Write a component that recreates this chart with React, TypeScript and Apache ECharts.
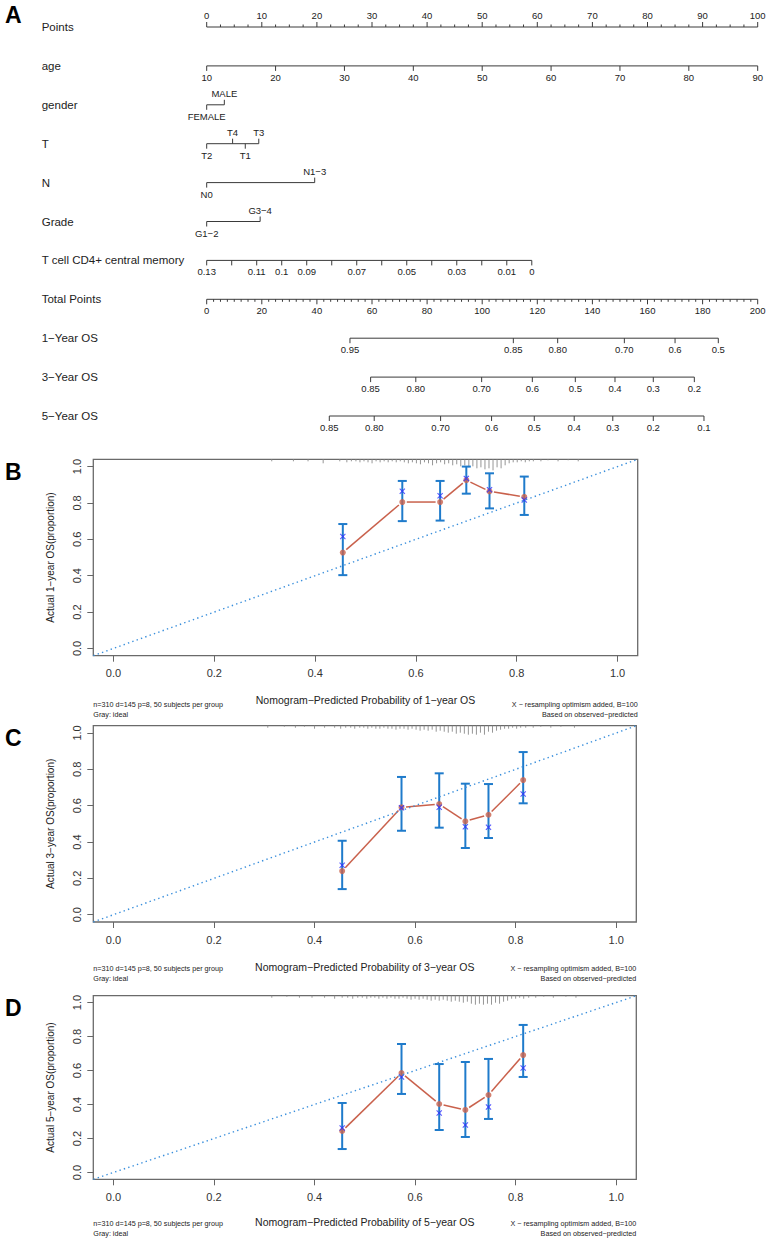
import React, { useEffect, useRef } from 'react';
import * as echarts from 'echarts';

const FONT = '"Liberation Sans", Arial, Helvetica, sans-serif';

// ---------------- Panel A: nomogram ----------------
const rowNames = ['Points', 'age', 'gender', 'T', 'N', 'Grade', 'T cell CD4+ central memory', 'Total Points', '1−Year OS', '3−Year OS', '5−Year OS'];
const pointsTicks = [0, 10, 20, 30, 40, 50, 60, 70, 80, 90, 100];
const ageTicks = [10, 20, 30, 40, 50, 60, 70, 80, 90];
const AGE_MIN = 10;
const AGE_MAX = 90;
const genderLevels = ['FEMALE', 'MALE'];
const genderPoints = [0, 3.2];
const tLevels = ['T2', 'T4', 'T1', 'T3'];
const tPoints = [0, 4.7, 7.0, 9.45];
const nLevels = ['N0', 'N1−3'];
const nPoints = [0, 19.6];
const gradeLevels = ['G1−2', 'G3−4'];
const gradePoints = [0, 9.7];
const tcellTicks = [0.13, 0.12, 0.11, 0.1, 0.09, 0.08, 0.07, 0.06, 0.05, 0.04, 0.03, 0.02, 0.01, 0];
const tcellLabels = ['0.13', '', '0.11', '0.1', '0.09', '', '0.07', '', '0.05', '', '0.03', '', '0.01', '0'];
const TCELL_MAX = 0.13;
const TCELL_POINTS_AT_ZERO = 59.0;
const totalTicks = [0, 20, 40, 60, 80, 100, 120, 140, 160, 180, 200];
const os1Labels = ['0.95', '0.85', '0.80', '0.70', '0.6', '0.5'];
const os1Total = [52.0, 111.3, 127.4, 151.6, 170.0, 185.7];
const os3Labels = ['0.85', '0.80', '0.70', '0.6', '0.5', '0.4', '0.3', '0.2'];
const os3Total = [59.5, 75.9, 99.8, 118.2, 133.8, 148.2, 162.1, 177.0];
const os5Labels = ['0.85', '0.80', '0.70', '0.6', '0.5', '0.4', '0.3', '0.2', '0.1'];
const os5Total = [44.5, 60.8, 84.9, 103.4, 118.9, 133.4, 147.4, 162.1, 180.5];

// ---------------- Panels B-D: calibration ----------------
const predP = [0.455, 0.573, 0.648, 0.700, 0.746, 0.815];

const obs1 = [0.527, 0.805, 0.805, 0.925, 0.864, 0.833];
const corr1 = [0.615, 0.864, 0.840, 0.935, 0.873, 0.816];
const lo1 = [0.403, 0.700, 0.703, 0.851, 0.770, 0.734];
const hi1 = [0.684, 0.921, 0.921, 1.0, 0.963, 0.945];

const obs3 = [0.240, 0.591, 0.609, 0.514, 0.550, 0.741];
const corr3 = [0.272, 0.588, 0.591, 0.484, 0.481, 0.664];
const lo3 = [0.141, 0.462, 0.479, 0.367, 0.422, 0.613];
const hi3 = [0.407, 0.758, 0.778, 0.721, 0.719, 0.895];

const obs5 = [0.244, 0.585, 0.403, 0.368, 0.456, 0.691];
const corr5 = [0.262, 0.562, 0.350, 0.279, 0.385, 0.615];
const lo5 = [0.138, 0.462, 0.250, 0.209, 0.315, 0.562];
const hi5 = [0.409, 0.756, 0.638, 0.650, 0.668, 0.868];

const rug1 = [[0.314,2],[0.357,2],[0.386,2],[0.416,4],[0.449,2],[0.463,3],[0.472,2],[0.481,2],[0.489,3],[0.497,2],[0.505,3],[0.513,4],[0.521,2],[0.529,3],[0.537,2],[0.545,3],[0.553,2],[0.561,3],[0.569,2],[0.577,3],[0.585,4],[0.593,3],[0.601,4],[0.609,5],[0.617,3],[0.625,4],[0.633,6],[0.641,4],[0.649,3],[0.657,5],[0.665,4],[0.673,6],[0.681,5],[0.689,7],[0.697,6],[0.705,8],[0.713,7],[0.721,9],[0.729,8],[0.737,10],[0.745,9],[0.753,11],[0.761,8],[0.769,9],[0.777,6],[0.785,4],[0.793,3],[0.801,3],[0.809,2],[0.817,3],[0.825,2],[0.833,2],[0.848,2],[0.862,1],[0.882,2],[0.902,1],[0.922,2]];
const rug3 = [[0.307,2],[0.34,1],[0.362,2],[0.38,1],[0.4,3],[0.42,2],[0.44,2],[0.452,3],[0.462,2],[0.472,2],[0.48,3],[0.49,2],[0.498,2],[0.506,3],[0.514,2],[0.522,3],[0.53,3],[0.538,2],[0.546,3],[0.554,3],[0.562,4],[0.57,3],[0.578,3],[0.586,4],[0.594,3],[0.602,4],[0.61,5],[0.618,4],[0.626,5],[0.634,4],[0.642,6],[0.65,5],[0.658,6],[0.666,7],[0.674,6],[0.682,8],[0.69,7],[0.698,8],[0.706,9],[0.714,8],[0.722,9],[0.73,7],[0.738,9],[0.746,6],[0.754,7],[0.762,5],[0.77,4],[0.778,3],[0.786,3],[0.794,2],[0.802,3],[0.81,2],[0.82,2],[0.835,2],[0.85,1],[0.87,2],[0.89,1],[0.917,2]];
const rug5 = [[0.315,2],[0.345,1],[0.37,2],[0.395,2],[0.42,2],[0.44,3],[0.455,2],[0.466,2],[0.476,3],[0.486,2],[0.495,2],[0.504,3],[0.512,2],[0.52,2],[0.528,3],[0.536,2],[0.544,3],[0.552,2],[0.56,3],[0.568,3],[0.576,2],[0.584,3],[0.592,4],[0.6,3],[0.608,4],[0.616,3],[0.624,4],[0.632,5],[0.64,4],[0.648,5],[0.656,4],[0.664,5],[0.672,6],[0.68,5],[0.688,6],[0.696,7],[0.704,6],[0.712,8],[0.72,9],[0.728,8],[0.736,9],[0.744,8],[0.752,9],[0.76,7],[0.768,8],[0.776,6],[0.784,5],[0.792,3],[0.8,3],[0.808,2],[0.816,3],[0.826,2],[0.84,2],[0.856,1],[0.875,2],[0.9,1],[0.92,2]];

const calTicks = [0, 0.2, 0.4, 0.6, 0.8, 1.0];

type Tick = { v: number; t: string; side: number; major: boolean };
type Row = { row: number; ticks: Tick[] };

function catTicks(levels: string[], pts: number[]): Tick[] {
  const items = levels.map((l, i) => ({ l, p: pts[i] })).sort((a, b) => a.p - b.p);
  return items.map((o, i) => ({ v: o.p, t: o.l, side: i % 2 === 0 ? 1 : -1, major: true }));
}

function buildRows() {
  const pointsRow: Tick[] = [];
  pointsTicks.forEach((v, i) => {
    pointsRow.push({ v, t: String(v), side: -1, major: true });
    if (i < pointsTicks.length - 1) {
      for (let k = 1; k < 4; k++) pointsRow.push({ v: v + (pointsTicks[i + 1] - v) * k / 4, t: '', side: -1, major: false });
    }
  });
  const ageRow: Tick[] = ageTicks.map((a) => ({ v: ((a - AGE_MIN) / (AGE_MAX - AGE_MIN)) * 100, t: String(a), side: 1, major: true }));
  const tcellRow: Tick[] = tcellTicks.map((v, i) => ({ v: ((TCELL_MAX - v) / TCELL_MAX) * TCELL_POINTS_AT_ZERO, t: tcellLabels[i], side: 1, major: true }));
  const totalRow: Tick[] = [];
  totalTicks.forEach((v, i) => {
    totalRow.push({ v, t: String(v), side: 1, major: true });
    if (i < totalTicks.length - 1) {
      for (let k = 1; k < 8; k++) totalRow.push({ v: v + (totalTicks[i + 1] - v) * k / 8, t: '', side: 1, major: false });
    }
  });
  const osRow = (labels: string[], tot: number[]): Tick[] => labels.map((l, i) => ({ v: tot[i], t: l, side: 1, major: true }));
  const rowsPts: Row[] = [
    { row: 0, ticks: pointsRow },
    { row: 1, ticks: ageRow },
    { row: 2, ticks: catTicks(genderLevels, genderPoints) },
    { row: 3, ticks: catTicks(tLevels, tPoints) },
    { row: 4, ticks: catTicks(nLevels, nPoints) },
    { row: 5, ticks: catTicks(gradeLevels, gradePoints) },
    { row: 6, ticks: tcellRow },
  ];
  const rowsTot: Row[] = [
    { row: 7, ticks: totalRow },
    { row: 8, ticks: osRow(os1Labels, os1Total) },
    { row: 9, ticks: osRow(os3Labels, os3Total) },
    { row: 10, ticks: osRow(os5Labels, os5Total) },
  ];
  return { rowsPts, rowsTot };
}

function nomoRender(rows: Row[]) {
  return (params: any, api: any) => {
    const r = rows[params.dataIndex];
    const y = api.coord([0, r.row])[1];
    const xs = r.ticks.map((t) => api.coord([t.v, r.row])[0]);
    const children: any[] = [];
    const stroke = '#3a3a3a';
    children.push({ type: 'line', shape: { x1: Math.min(...xs), y1: y, x2: Math.max(...xs), y2: y }, style: { stroke, lineWidth: 1 } });
    r.ticks.forEach((t, i) => {
      const len = t.major ? 5 : 2.5;
      children.push({ type: 'line', shape: { x1: xs[i], y1: y, x2: xs[i], y2: y + t.side * len }, style: { stroke, lineWidth: 1 } });
      if (t.t) {
        children.push({
          type: 'text',
          style: {
            text: t.t, x: xs[i], y: y + t.side * 11.5,
            align: 'center', verticalAlign: 'middle', textAlign: 'center', textVerticalAlign: 'middle',
            fontSize: 9.5, fontFamily: FONT, fill: '#222',
          },
        });
      }
    });
    return { type: 'group', children };
  };
}

type Panel = {
  top: number; height: number; left: number; width: number;
  obs: number[]; corr: number[]; lo: number[]; hi: number[]; rug: number[][];
  xName: string; yName: string;
  titleGap: number; noteY1: number; noteY2: number;
};

const panels: Panel[] = [
  { top: 459.3, height: 196.4, left: 93.3, width: 544.4, obs: obs1, corr: corr1, lo: lo1, hi: hi1, rug: rug1,
    xName: 'Nomogram−Predicted Probability of 1−year OS', yName: 'Actual 1−year OS(proportion)', titleGap: 39, noteY1: 704, noteY2: 714 },
  { top: 725.7, height: 196.3, left: 93.3, width: 543, obs: obs3, corr: corr3, lo: lo3, hi: hi3, rug: rug3,
    xName: 'Nomogram−Predicted Probability of 3−year OS', yName: 'Actual 3−year OS(proportion)', titleGap: 39, noteY1: 968, noteY2: 978 },
  { top: 995.7, height: 183.6, left: 93.3, width: 543, obs: obs5, corr: corr5, lo: lo5, hi: hi5, rug: rug5,
    xName: 'Nomogram−Predicted Probability of 5−year OS', yName: 'Actual 5−year OS(proportion)', titleGap: 37, noteY1: 1223.5, noteY2: 1233 },
];

const XMARK = 'path://M0,1.3L1.3,0L5,3.7L8.7,0L10,1.3L6.3,5L10,8.7L8.7,10L5,6.3L1.3,10L0,8.7L3.7,5Z';
const RED = '#c9614c';
const GAP = 4.5;

function buildOption() {
  const { rowsPts, rowsTot } = buildRows();
  const grids: any[] = [{ left: 206.7, top: 27, width: 551, height: 389, outerBoundsMode: 'none' }];
  const xAxes: any[] = [
    { gridIndex: 0, type: 'value', min: 0, max: 100, show: false },
    { gridIndex: 0, type: 'value', min: 0, max: 200, show: false },
  ];
  const yAxes: any[] = [{
    gridIndex: 0, type: 'value', min: 0, max: 10, interval: 1, inverse: true,
    axisLine: { show: false }, axisTick: { show: false }, splitLine: { show: false },
    axisLabel: { formatter: (v: number) => rowNames[v] || '', align: 'left', margin: 165, fontSize: 11.5, fontFamily: FONT, color: '#222' },
  }];
  const series: any[] = [
    { type: 'custom', xAxisIndex: 0, yAxisIndex: 0, data: rowsPts.map((r) => [0, r.row]), renderItem: nomoRender(rowsPts), silent: true },
    { type: 'custom', xAxisIndex: 1, yAxisIndex: 0, data: rowsTot.map((r) => [0, r.row]), renderItem: nomoRender(rowsTot), silent: true },
  ];
  const graphics: any[] = [
    { type: 'text', left: 5, top: 3, style: { text: 'A', fontSize: 23, fontWeight: 'bold', fontFamily: FONT, fill: '#000' } },
  ];
  const letters = ['B', 'C', 'D'];
  panels.forEach((p, k) => {
    const g = k + 1;
    const xi = k + 2;
    const yi = k + 1;
    grids.push({ left: p.left, top: p.top, width: p.width, height: p.height, show: true, borderColor: '#6a6a6a', borderWidth: 1.3, backgroundColor: 'transparent', outerBoundsMode: 'none' });
    xAxes.push({
      gridIndex: g, type: 'value', min: -0.04, max: 1.04, position: 'bottom',
      axisLine: { show: false, onZero: false }, splitLine: { show: false },
      axisTick: { show: true, length: 6, customValues: calTicks, lineStyle: { color: '#666', width: 1 } },
      axisLabel: { customValues: calTicks, formatter: (v: number) => v.toFixed(1), margin: 12, fontSize: 11, fontFamily: FONT, color: '#333' },
      name: p.xName, nameLocation: 'middle', nameGap: p.titleGap,
      nameTextStyle: { fontSize: 10.5, fontFamily: FONT, color: '#222' },
    });
    yAxes.push({
      gridIndex: g, type: 'value', min: -0.04, max: 1.04, position: 'left',
      axisLine: { show: false, onZero: false }, splitLine: { show: false },
      axisTick: { show: true, length: 6, customValues: calTicks, lineStyle: { color: '#666', width: 1 } },
      axisLabel: { customValues: calTicks, formatter: (v: number) => v.toFixed(1), rotate: 90, margin: 11, fontSize: 11, fontFamily: FONT, color: '#333' },
      name: p.yName, nameLocation: 'middle', nameGap: 38,
      nameTextStyle: { fontSize: 10, fontFamily: FONT, color: '#222' },
    });
    // ideal line
    series.push({
      type: 'line', xAxisIndex: xi, yAxisIndex: yi, data: [[-0.04, -0.04], [1.04, 1.04]], symbol: 'none', silent: true,
      lineStyle: { color: '#3a8fdc', width: 1.4, type: [1.4, 3.2] },
    });
    // rug
    series.push({
      type: 'custom', xAxisIndex: xi, yAxisIndex: yi, data: p.rug, silent: true,
      renderItem: (params: any, api: any) => {
        const top = api.coord([api.value(0), 1.04]);
        return { type: 'line', shape: { x1: top[0], y1: top[1], x2: top[0], y2: top[1] + api.value(1) }, style: { stroke: '#8a8a8a', lineWidth: 0.9 } };
      },
    });
    // error bars
    series.push({
      type: 'custom', xAxisIndex: xi, yAxisIndex: yi, silent: true,
      data: predP.map((x, i) => [x, p.lo[i], p.hi[i]]),
      renderItem: (params: any, api: any) => {
        const a = api.coord([api.value(0), api.value(1)]);
        const b = api.coord([api.value(0), api.value(2)]);
        const st = { stroke: '#1f7bcb', lineWidth: 2 };
        return {
          type: 'group', children: [
            { type: 'line', shape: { x1: a[0], y1: a[1], x2: b[0], y2: b[1] }, style: st },
            { type: 'line', shape: { x1: a[0] - 4.5, y1: a[1], x2: a[0] + 4.5, y2: a[1] }, style: st },
            { type: 'line', shape: { x1: b[0] - 4.5, y1: b[1], x2: b[0] + 4.5, y2: b[1] }, style: st },
          ],
        };
      },
    });
    // observed: connecting segments with small gaps at each point (R type = "b")
    series.push({
      type: 'custom', xAxisIndex: xi, yAxisIndex: yi, silent: true,
      data: predP.slice(0, -1).map((x, i) => [x, p.obs[i], predP[i + 1], p.obs[i + 1]]),
      renderItem: (params: any, api: any) => {
        const a = api.coord([api.value(0), api.value(1)]);
        const b = api.coord([api.value(2), api.value(3)]);
        const dx = b[0] - a[0];
        const dy = b[1] - a[1];
        const len = Math.sqrt(dx * dx + dy * dy) || 1;
        const ux = dx / len;
        const uy = dy / len;
        return {
          type: 'line',
          shape: { x1: a[0] + ux * GAP, y1: a[1] + uy * GAP, x2: b[0] - ux * GAP, y2: b[1] - uy * GAP },
          style: { stroke: RED, lineWidth: 1.5 },
        };
      },
    });
    series.push({
      type: 'scatter', xAxisIndex: xi, yAxisIndex: yi, silent: true,
      data: predP.map((x, i) => [x, p.obs[i]]), symbol: 'circle', symbolSize: 6,
      itemStyle: { color: RED },
    });
    // bias corrected
    series.push({
      type: 'scatter', xAxisIndex: xi, yAxisIndex: yi, silent: true,
      data: predP.map((x, i) => [x, p.corr[i]]), symbol: XMARK, symbolSize: 6,
      itemStyle: { color: '#3030ff' },
    });
    const right = p.left + p.width;
    const noteStyle = { fontSize: 7.2, fontFamily: FONT, fill: '#222' };
    graphics.push(
      { type: 'text', left: 5, top: p.top + 1, style: { text: letters[k], fontSize: 23, fontWeight: 'bold', fontFamily: FONT, fill: '#000' } },
      { type: 'text', x: p.left, y: p.noteY1, style: { ...noteStyle, text: 'n=310 d=145 p=8, 50 subjects per group', align: 'left', verticalAlign: 'middle', textAlign: 'left', textVerticalAlign: 'middle' } },
      { type: 'text', x: p.left, y: p.noteY2, style: { ...noteStyle, text: 'Gray: ideal', align: 'left', verticalAlign: 'middle', textAlign: 'left', textVerticalAlign: 'middle' } },
      { type: 'text', x: right, y: p.noteY1, style: { ...noteStyle, text: 'X − resampling optimism added, B=100', align: 'right', verticalAlign: 'middle', textAlign: 'right', textVerticalAlign: 'middle' } },
      { type: 'text', x: right, y: p.noteY2, style: { ...noteStyle, text: 'Based on observed−predicted', align: 'right', verticalAlign: 'middle', textAlign: 'right', textVerticalAlign: 'middle' } },
    );
  });
  return {
    animation: false,
    backgroundColor: '#ffffff',
    textStyle: { fontFamily: FONT },
    grid: grids,
    xAxis: xAxes,
    yAxis: yAxes,
    series,
    graphic: graphics,
  };
}

export default function App() {
  const ref = useRef<HTMLDivElement>(null);
  useEffect(() => {
    if (!ref.current) return;
    const chart = echarts.init(ref.current, undefined, { renderer: 'svg' });
    chart.setOption(buildOption() as any);
    return () => chart.dispose();
  }, []);
  return <div ref={ref} style={{ position: 'absolute', left: 0, top: 0, width: 767, height: 1239, background: '#fff' }} />;
}
